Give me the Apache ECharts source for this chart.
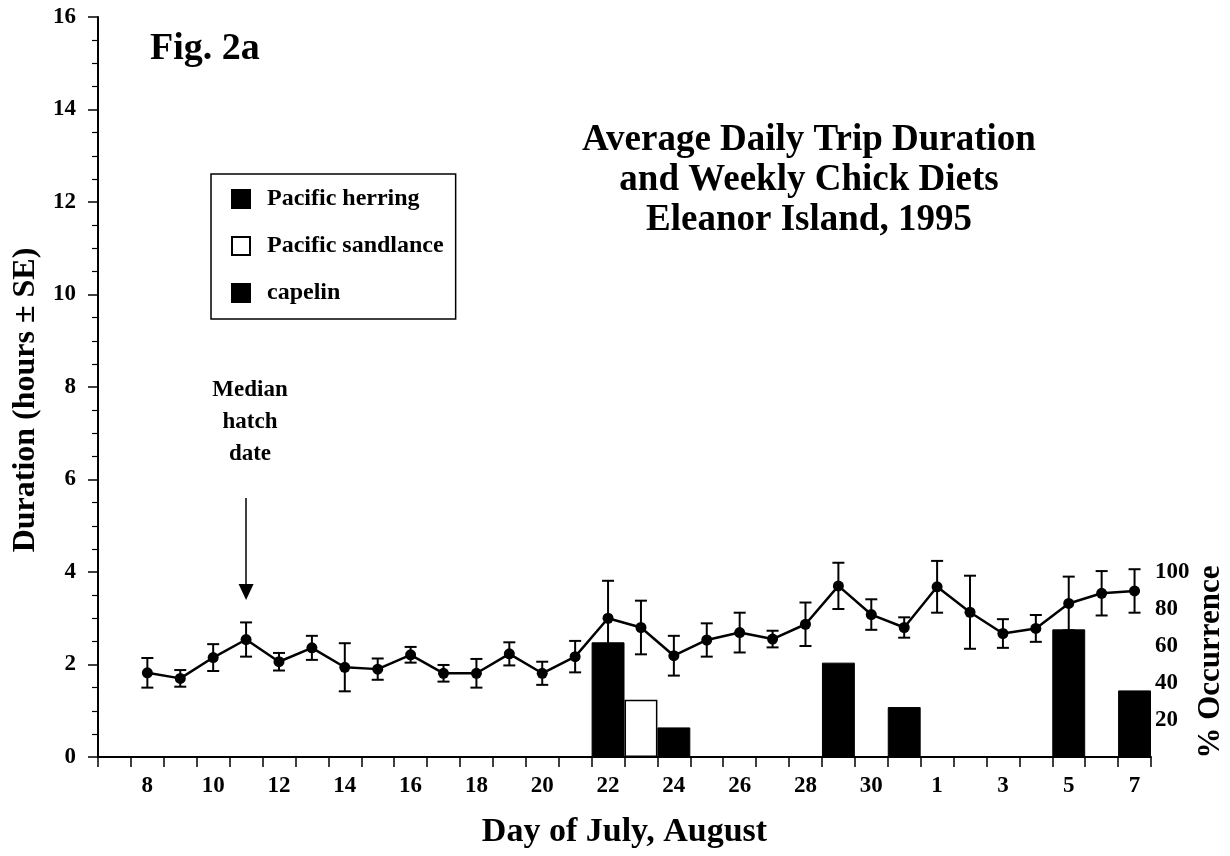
<!DOCTYPE html>
<html>
<head>
<meta charset="utf-8">
<script src="https://cdn.jsdelivr.net/npm/echarts@6/dist/echarts.min.js"></script>
<style>
  html, body { margin: 0; padding: 0; background: #fff; }
  #main { width: 1230px; height: 856px; }
</style>
</head>
<body>
<div id="main"></div>
<script>
// days 7 Jul .. 7 Aug (7 Jul is an empty slot before the first trip)
var days = ['7','8','9','10','11','12','13','14','15','16','17','18','19','20','21','22','23','24','25','26','27','28','29','30','31',
            '1','2','3','4','5','6','7'];
// mean trip duration (hours)
var duration = ['-', 1.82, 1.70, 2.15, 2.54, 2.06, 2.36, 1.94, 1.90, 2.21, 1.81, 1.81, 2.23, 1.81, 2.17,
                3.00, 2.80, 2.19, 2.53, 2.69, 2.55, 2.87, 3.70, 3.08, 2.80,
                3.68, 3.13, 2.67, 2.78, 3.32, 3.54, 3.59];
// standard error
var se = ['-', 0.32, 0.18, 0.29, 0.37, 0.19, 0.26, 0.52, 0.23, 0.17, 0.18, 0.31, 0.25, 0.25, 0.34,
          0.81, 0.58, 0.43, 0.36, 0.43, 0.18, 0.47, 0.50, 0.33, 0.22,
          0.56, 0.79, 0.31, 0.29, 0.58, 0.48, 0.47];
// weekly chick diet, % occurrence (key = index in days)
var herring   = {15: 62, 22: 51, 29: 69};
var sandlance = {16: 31};
var capelin   = {17: 16, 24: 27, 31: 36};

var FONT = "'Liberation Serif', 'Times New Roman', serif";

function toSeries(obj) {
  var arr = [];
  for (var i = 0; i < days.length; i++) {
    arr.push(obj[i] != null ? obj[i] : '-');
  }
  return arr;
}

var errData = [];
for (var i = 0; i < days.length; i++) {
  if (duration[i] !== '-') {
    errData.push([i, duration[i] - se[i], duration[i] + se[i]]);
  }
}

var chart = echarts.init(document.getElementById('main'));

var option = {
  backgroundColor: '#fff',
  animation: false,
  textStyle: { fontFamily: FONT, fontWeight: 'bold', color: '#000' },
  grid: { left: 98, right: 79, top: 17, bottom: 99 },
  legend: {
    data: ['Pacific herring', 'Pacific sandlance', 'capelin'],
    orient: 'vertical',
    left: 211,
    top: 174,
    padding: [13, 12, 14, 20],
    itemGap: 23,
    itemWidth: 18,
    itemHeight: 18,
    icon: 'rect',
    borderColor: '#000',
    borderWidth: 1.5,
    textStyle: { fontFamily: FONT, fontWeight: 'bold', fontSize: 24, color: '#000', padding: [0, 0, 0, 12] }
  },
  xAxis: {
    type: 'category',
    data: days,
    boundaryGap: true,
    name: 'Day of July, August',
    nameLocation: 'middle',
    nameGap: 58,
    nameTextStyle: { fontFamily: FONT, fontWeight: 'bold', fontSize: 34, color: '#000' },
    axisLine: { lineStyle: { color: '#000', width: 2 } },
    axisTick: { show: true, interval: 0, length: 10, lineStyle: { color: '#000', width: 1.5 } },
    axisLabel: {
      interval: function (idx) { return idx % 2 === 1; },
      margin: 18,
      fontFamily: FONT, fontWeight: 'bold', fontSize: 23, color: '#000'
    },
    splitLine: { show: false }
  },
  yAxis: [
    {
      type: 'value',
      min: 0, max: 16, interval: 2,
      axisLine: { show: true, lineStyle: { color: '#000', width: 2 } },
      axisTick: { show: true, length: 10, lineStyle: { color: '#000', width: 1.5 } },
      minorTick: { show: true, splitNumber: 4, length: 6, lineStyle: { color: '#000', width: 1.2 } },
      axisLabel: { margin: 22, fontFamily: FONT, fontWeight: 'bold', fontSize: 23, color: '#000' },
      splitLine: { show: false }
    },
    {
      type: 'value',
      min: 0, max: 400, interval: 20,
      position: 'right',
      axisLine: { show: false },
      axisTick: { show: false },
      axisLabel: {
        margin: 4,
        fontFamily: FONT, fontWeight: 'bold', fontSize: 23, color: '#000',
        formatter: function (v) { return (v > 0 && v <= 100) ? String(v) : ''; }
      },
      splitLine: { show: false }
    }
  ],
  graphic: [
    { type: 'text', left: 150, top: 30,
      style: { text: 'Fig. 2a', font: 'bold 38px ' + FONT, fill: '#000' } },
    { type: 'text', x: 809, y: 120,
      style: { text: 'Average Daily Trip Duration\nand Weekly Chick Diets\nEleanor Island, 1995',
               font: 'bold 37px ' + FONT, fill: '#000', align: 'center', verticalAlign: 'top', lineHeight: 40 } },
    { type: 'text', x: 250, y: 374,
      style: { text: 'Median\nhatch\ndate', font: 'bold 23px ' + FONT, fill: '#000',
               align: 'center', verticalAlign: 'top', lineHeight: 32 } },
    { type: 'text', x: 26, y: 400, rotation: Math.PI / 2,
      style: { text: 'Duration (hours \u00b1 SE)', font: 'bold 32px ' + FONT, fill: '#000',
               align: 'center', verticalAlign: 'middle' } },
    { type: 'text', x: 1211, y: 662, rotation: Math.PI / 2,
      style: { text: '% Occurrence', font: 'bold 31px ' + FONT, fill: '#000',
               align: 'center', verticalAlign: 'middle' } }
  ],
  series: [
    {
      name: 'Pacific herring', type: 'bar', yAxisIndex: 1,
      data: toSeries(herring), barWidth: '100%', barGap: '-100%', z: 1,
      itemStyle: { color: '#000', borderColor: '#000', borderWidth: 1 }
    },
    {
      name: 'Pacific sandlance', type: 'bar', yAxisIndex: 1,
      data: toSeries(sandlance), barWidth: '100%', barGap: '-100%', z: 1,
      itemStyle: { color: '#fff', borderColor: '#000', borderWidth: 1.5 }
    },
    {
      name: 'capelin', type: 'bar', yAxisIndex: 1,
      data: toSeries(capelin), barWidth: '100%', barGap: '-100%', z: 1,
      itemStyle: { color: '#000', borderColor: '#000', borderWidth: 1 }
    },
    {
      name: 'duration', type: 'custom', z: 3,
      data: errData,
      renderItem: function (params, api) {
        var x = api.value(0);
        var lo = api.coord([x, api.value(1)]);
        var hi = api.coord([x, api.value(2)]);
        var w = 6;
        var st = { stroke: '#000', lineWidth: 2 };
        return {
          type: 'group',
          children: [
            { type: 'line', shape: { x1: lo[0], y1: lo[1], x2: hi[0], y2: hi[1] }, style: st },
            { type: 'line', shape: { x1: lo[0] - w, y1: lo[1], x2: lo[0] + w, y2: lo[1] }, style: st },
            { type: 'line', shape: { x1: hi[0] - w, y1: hi[1], x2: hi[0] + w, y2: hi[1] }, style: st }
          ]
        };
      }
    },
    {
      name: 'trip', type: 'line', z: 4,
      data: duration,
      symbol: 'circle', symbolSize: 11,
      lineStyle: { color: '#000', width: 2.5 },
      itemStyle: { color: '#000' },
      markLine: {
        silent: true,
        symbol: ['none', 'triangle'],
        symbolSize: [15, 16],
        label: { show: false },
        lineStyle: { color: '#000', width: 1.5, type: 'solid' },
        data: [[{ coord: [4, 5.6] }, { coord: [4, 3.57] }]]
      }
    }
  ]
};

chart.setOption(option);
</script>
</body>
</html>
